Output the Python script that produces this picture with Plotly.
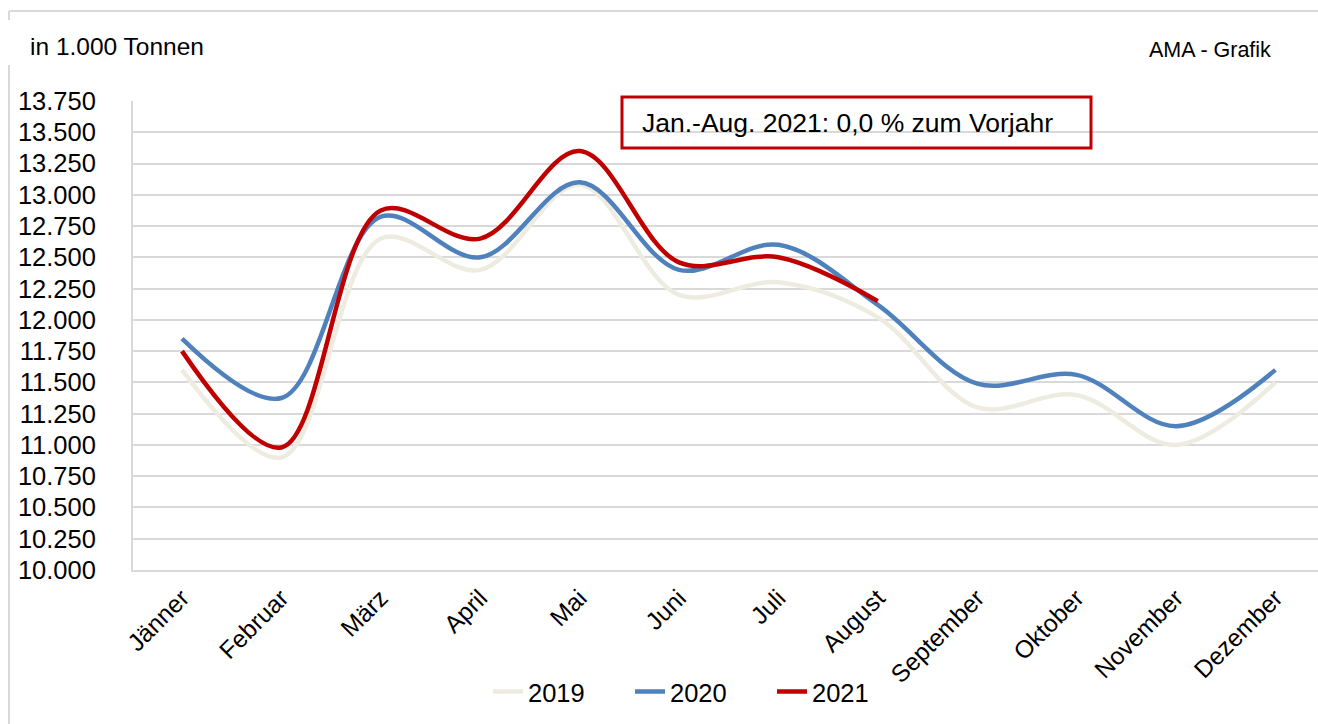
import plotly.graph_objects as go

months = ["Jänner", "Februar", "März", "April", "Mai", "Juni", "Juli",
          "August", "September", "Oktober", "November", "Dezember"]
y2019 = [11600, 10900, 12650, 12400, 13080, 12200, 12300, 12020, 11300, 11400, 11000, 11500]
y2020 = [11850, 11375, 12825, 12500, 13100, 12400, 12600, 12120, 11490, 11560, 11150, 11600]
y2021 = [11750, 10980, 12875, 12650, 13350, 12460, 12500, 12150]
series_names = ["2019", "2020", "2021"]
y_ticks = list(range(10000, 13751, 250))
note_text = "Jan.-Aug. 2021: 0,0 % zum Vorjahr"
unit_text = "in 1.000 Tonnen"
source_text = "AMA - Grafik"

W, H = 1318, 724
L, R, T, B = 133, 0, 101, 154
PW, PH = W - L - R, H - T - B

def px(x):
    return (x - L) / PW

def py(y):
    return (H - B - y) / PH

colors = ["#EEECE1", "#4F81BD", "#C00000"]
font = "Liberation Sans, Arial, sans-serif"

fig = go.Figure()
for name, ys, c in zip(series_names, [y2019, y2020, y2021], colors):
    fig.add_trace(go.Scatter(
        x=months[:len(ys)], y=ys, name=name, mode="lines",
        line=dict(color=c, width=4.5, shape="spline", smoothing=1.0),
    ))

step = 99.4
fig.update_layout(
    width=W, height=H,
    margin=dict(l=L, r=R, t=T, b=B),
    paper_bgcolor="white", plot_bgcolor="white",
    separators=",.",
    font=dict(family=font, size=24, color="black"),
    showlegend=True,
    legend=dict(orientation="h", x=px(701), xanchor="center", y=py(692), yanchor="middle",
                font=dict(size=25.5), entrywidth=97, entrywidthmode="pixels",
                bgcolor="rgba(0,0,0,0)"),
    xaxis=dict(
        type="category", categoryarray=months,
        range=[-(182 - L) / step, -(182 - L) / step + PW / step],
        showgrid=False, showline=True, linecolor="#D9D9D9", linewidth=2,
        tickangle=-45, tickfont=dict(size=24.5), ticks="", ticklabelstandoff=2,
    ),
    yaxis=dict(
        range=[10000, 13750], tickvals=y_ticks, tickformat=",d",
        showgrid=True, gridcolor="#D9D9D9", gridwidth=2,
        showline=True, linecolor="#D9D9D9", linewidth=2,
        zeroline=False, tickfont=dict(size=25.5), ticks="", ticklabelstandoff=30,
    ),
    shapes=[
        dict(type="line", xref="paper", yref="paper", x0=px(9), x1=px(W), y0=py(11), y1=py(11),
             line=dict(color="#D9D9D9", width=2)),
        dict(type="line", xref="paper", yref="paper", x0=px(9), x1=px(9), y0=py(11), y1=py(20),
             line=dict(color="#D9D9D9", width=2)),
        dict(type="line", xref="paper", yref="paper", x0=px(9), x1=px(9), y0=py(65), y1=py(H),
             line=dict(color="#D9D9D9", width=2)),
        dict(type="rect", xref="paper", yref="paper", x0=px(622), x1=px(1091), y0=py(97), y1=py(148),
             line=dict(color="#C00000", width=3), fillcolor="rgba(0,0,0,0)"),
    ],
    annotations=[
        dict(text=note_text, xref="paper", yref="paper", x=px(640), y=py(123),
             xanchor="left", yanchor="middle", showarrow=False, font=dict(size=26.5)),
        dict(text=unit_text, xref="paper", yref="paper", x=px(28), y=py(46),
             xanchor="left", yanchor="middle", showarrow=False, font=dict(size=24.5)),
        dict(text=source_text, xref="paper", yref="paper", x=px(1147), y=py(50),
             xanchor="left", yanchor="middle", showarrow=False, font=dict(size=21.5)),
    ],
)

fig.write_html("out.html", config={"displayModeBar": False},
               post_script="document.body.style.margin='0';")
